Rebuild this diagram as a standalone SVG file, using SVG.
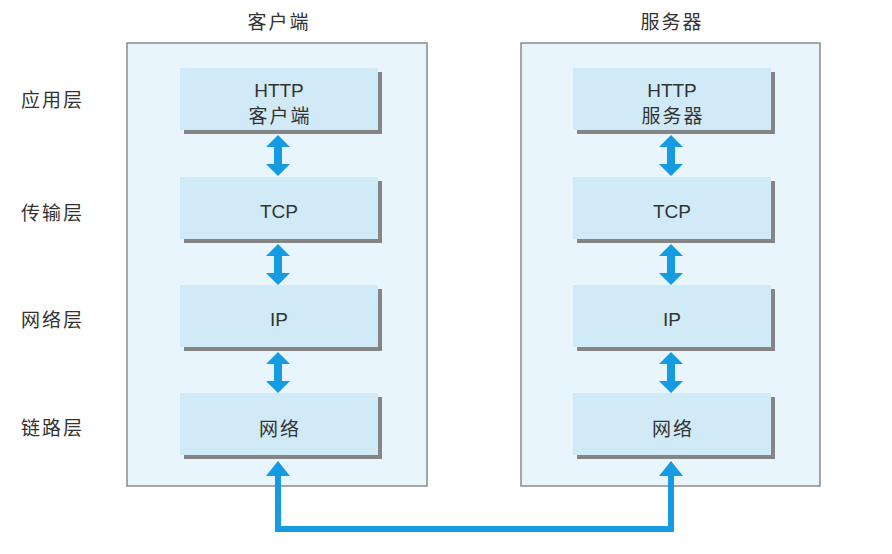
<svg xmlns="http://www.w3.org/2000/svg" width="892" height="554" viewBox="0 0 892 554">
<style>
.outer{fill:#e8f5fc;stroke:#8a8a8a;stroke-width:1.5}
.shadow{fill:#858585}
.box{fill:#d1eaf7}
.t{font-family:"Liberation Sans","Noto Sans CJK SC",sans-serif;font-size:19px;fill:#333;text-anchor:middle}
.cj{letter-spacing:2px}
.lbl{font-family:"Noto Sans CJK SC",sans-serif;font-size:19px;fill:#333;letter-spacing:2px}
.arr{fill:#149be2}
.line{fill:none;stroke:#149be2;stroke-width:6}
</style>
<defs>
<path id="dbl" class="arr" d="M0,0 L12,12 L4,12 L4,29 L12,29 L0,41 L-12,29 L-4,29 L-4,12 L-12,12 Z"/>
</defs>
<rect width="892" height="554" fill="#fff"/>
<g id="labels">
<text class="lbl" x="21" y="107">应用层</text>
<text class="lbl" x="21" y="220">传输层</text>
<text class="lbl" x="21" y="327">网络层</text>
<text class="lbl" x="21" y="435">链路层</text>
</g>
<g id="client">
<rect class="outer" x="127" y="43" width="300" height="443"/>
<text class="t cj" x="279" y="29">客户端</text>
</g>
<g id="server">
<rect class="outer" x="521" y="43" width="299" height="443"/>
<text class="t cj" x="672" y="29">服务器</text>
</g>
<g id="c-http"><rect class="shadow" x="184" y="72" width="198" height="62"/><rect class="box" x="180" y="68" width="198" height="62"/><text class="t" x="279" y="97">HTTP</text><text class="t cj" x="280" y="123">客户端</text></g>
<g id="c-tcp"><rect class="shadow" x="184" y="181" width="198" height="62"/><rect class="box" x="180" y="177" width="198" height="62"/><text class="t" x="279" y="218">TCP</text></g>
<g id="c-ip"><rect class="shadow" x="184" y="289" width="198" height="62"/><rect class="box" x="180" y="285" width="198" height="62"/><text class="t" x="279" y="326">IP</text></g>
<g id="c-net"><rect class="shadow" x="184" y="397" width="198" height="62"/><rect class="box" x="180" y="393" width="198" height="62"/><text class="t cj" x="280" y="436">网络</text></g>
<g id="s-http"><rect class="shadow" x="577" y="72" width="198" height="62"/><rect class="box" x="573" y="68" width="198" height="62"/><text class="t" x="672" y="97">HTTP</text><text class="t cj" x="673" y="123">服务器</text></g>
<g id="s-tcp"><rect class="shadow" x="577" y="181" width="198" height="62"/><rect class="box" x="573" y="177" width="198" height="62"/><text class="t" x="672" y="218">TCP</text></g>
<g id="s-ip"><rect class="shadow" x="577" y="289" width="198" height="62"/><rect class="box" x="573" y="285" width="198" height="62"/><text class="t" x="672" y="326">IP</text></g>
<g id="s-net"><rect class="shadow" x="577" y="397" width="198" height="62"/><rect class="box" x="573" y="393" width="198" height="62"/><text class="t cj" x="673" y="436">网络</text></g>
<g id="connectors">
<use href="#dbl" x="278" y="135"/>
<use href="#dbl" x="278" y="244"/>
<use href="#dbl" x="278" y="352"/>
<use href="#dbl" x="671" y="135"/>
<use href="#dbl" x="671" y="244"/>
<use href="#dbl" x="671" y="352"/>
<polyline class="line" points="278,474 278,529 671,529 671,474"/>
<path class="arr" d="M278,461 L290,476 L266,476 Z"/>
<path class="arr" d="M671,461 L683,476 L659,476 Z"/>
</g>
</svg>
